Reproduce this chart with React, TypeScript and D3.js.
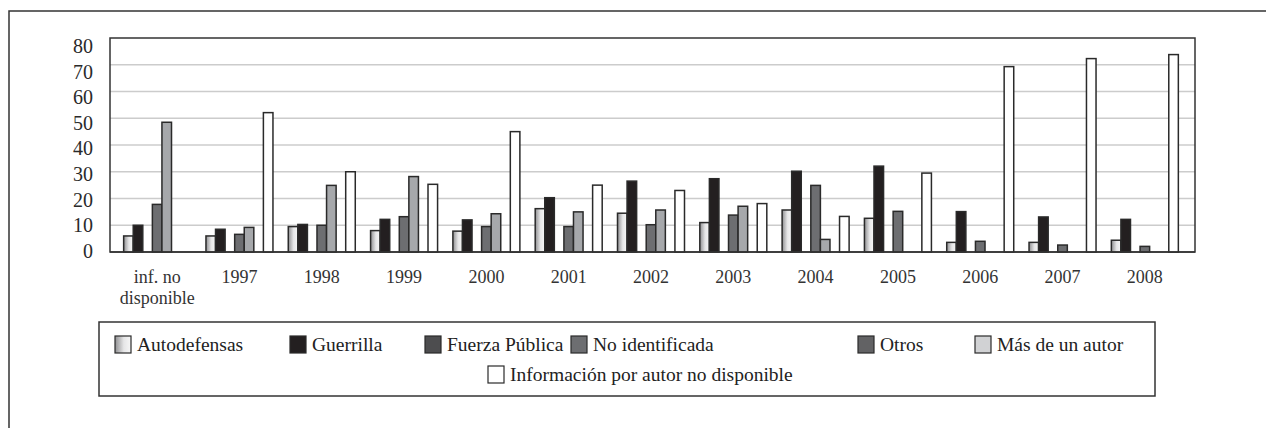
import React, { useEffect, useRef } from "react";
import * as d3 from "d3";

const width = 1266;
const height = 428;
const plot = { left: 110, right: 1195, top: 38, bottom: 252 };

const categories = [
  "inf. no disponible", "1997", "1998", "1999", "2000", "2001", "2002",
  "2003", "2004", "2005", "2006", "2007", "2008"
];
const seriesNames = [
  "Autodefensas", "Guerrilla", "Fuerza Pública", "No identificada",
  "Otros", "Más de un autor", "Información por autor no disponible"
];

const autodefensas = [6, 6, 9.5, 8, 7.8, 16.2, 14.5, 11, 15.7, 12.6, 3.6, 3.6, 4.4];
const guerrilla = [10, 8.5, 10.3, 12.2, 12, 20.3, 26.5, 27.4, 30.2, 32.1, 15.1, 13.1, 12.2];
const fuerzaPublica = [0, 0, 0, 0, 0, 0, 0, 0, 0, 0, 0, 0, 0];
const noIdentificada = [17.8, 6.6, 10, 13.2, 9.5, 9.5, 10.2, 13.8, 24.9, 15.2, 4, 2.6, 2.1];
const otros = [48.5, 9.2, 24.9, 28.2, 14.3, 15, 15.7, 17.1, 4.7, 0, 0, 0, 0];
const masDeUnAutor = [0, 0, 0, 0, 0, 0, 0, 0, 0, 0, 0, 0, 0];
const infoNoDisponible = [0, 52.1, 30, 25.3, 45, 25, 23, 18.1, 13.3, 29.5, 69.3, 72.3, 73.8];

const seriesValues = [
  autodefensas, guerrilla, fuerzaPublica, noIdentificada, otros, masDeUnAutor, infoNoDisponible
];
const barColors = ["url(#autoGrad)", "#231f20", "#4d4d4f", "#6d6e71", "#a6a8ab", "#d1d2d4", "#ffffff"];
const legendColors = ["url(#autoGrad)", "#231f20", "#4d4d4f", "#6d6e71", "#626264", "#d1d2d4", "#ffffff"];
const yTicks = [0, 10, 20, 30, 40, 50, 60, 70, 80];

// legend placement (row, swatch x)
const legendPos = [
  { row: 0, x: 115 }, { row: 0, x: 290 }, { row: 0, x: 425 }, { row: 0, x: 571 },
  { row: 0, x: 858 }, { row: 0, x: 975 }, { row: 1, x: 488 }
];

const font = "Liberation Serif, DejaVu Serif, serif";

export default function App() {
  const yAxisRef = useRef<SVGGElement>(null);

  const x0 = d3.scaleBand<string>().domain(categories).range([116, 1186]).padding(0);
  const x1 = d3
    .scaleBand<number>()
    .domain(d3.range(seriesNames.length))
    .range([(x0.bandwidth() - 67) / 2, (x0.bandwidth() + 67) / 2]);
  const y = d3.scaleLinear().domain([0, 80]).range([plot.bottom, plot.top]);
  // tick labels sit slightly off the grid in the source
  const yLabel = d3.scaleLinear().domain([0, 80]).range([251, 46]);

  useEffect(() => {
    const axis = d3.axisLeft(yLabel).tickValues(yTicks).tickSize(0).tickPadding(0);
    const g = d3.select(yAxisRef.current!);
    g.call(axis);
    g.attr("font-family", null).attr("font-size", null);
    g.select(".domain").remove();
    g.selectAll("text").attr("fill", "#2a2a2a");
  }, []);

  return (
    <svg
      width={width}
      height={height}
      style={{ position: "absolute", left: 0, top: 0, fontFamily: font }}
    >
      <defs>
        <linearGradient id="autoGrad" x1="0" x2="1" y1="0" y2="0">
          <stop offset="0%" stopColor="#8f8f91" />
          <stop offset="55%" stopColor="#e6e6e7" />
          <stop offset="100%" stopColor="#f7f7f7" />
        </linearGradient>
      </defs>
      <rect width={width} height={height} fill="#fff" />
      {/* outer frame */}
      <path d={`M9,${height} V11 H${width}`} fill="none" stroke="#333" strokeWidth={1.5} />

      {/* gridlines */}
      {yTicks.filter(t => t > 0 && t < 80).map(t => (
        <line key={t} x1={plot.left} x2={plot.right} y1={y(t)} y2={y(t)} stroke="#cccccc" strokeWidth={1.5} />
      ))}
      <path
        d={`M${plot.left},${plot.bottom} V${plot.top} H${plot.right} V${plot.bottom} Z`}
        fill="none" stroke="#333" strokeWidth={1.5}
      />

      {/* bars */}
      {categories.map((c, ci) => (
        <g key={c} transform={`translate(${x0(c)},0)`}>
          {seriesValues.map((vals, si) =>
            vals[ci] > 0 ? (
              <rect
                key={si}
                x={x1(si)}
                y={y(vals[ci])}
                width={x1.bandwidth()}
                height={y(0) - y(vals[ci])}
                fill={barColors[si]}
                stroke="#2a2a2a"
                strokeWidth={1.5}
              />
            ) : null
          )}
        </g>
      ))}
      <line x1={plot.left} x2={plot.right} y1={plot.bottom} y2={plot.bottom} stroke="#333" strokeWidth={1.5} />

      {/* y axis */}
      <g ref={yAxisRef} transform="translate(93,0)" style={{ fontFamily: font, fontSize: 20 }} />

      {/* x labels */}
      {categories.map(c => {
        const cx = x0(c)! + x0.bandwidth() / 2;
        const lines = c === "inf. no disponible" ? ["inf. no", "disponible"] : [c];
        return (
          <text key={c} x={cx} y={283} textAnchor="middle" fontSize={18} fill="#333">
            {lines.map((l, i) => (
              <tspan key={i} x={cx} dy={i === 0 ? 0 : 21}>{l}</tspan>
            ))}
          </text>
        );
      })}

      {/* legend */}
      <rect x={99} y={322} width={1056} height={74} fill="none" stroke="#333" strokeWidth={1.5} />
      {seriesNames.map((name, i) => {
        const p = legendPos[i];
        const sy = p.row === 0 ? 336 : 366;
        return (
          <g key={name}>
            <rect x={p.x} y={sy} width={16} height={17} fill={legendColors[i]} stroke="#2a2a2a" strokeWidth={1.2} />
            <text x={p.x + 22} y={sy + 15} fontSize={19.5} fill="#222">{name}</text>
          </g>
        );
      })}
    </svg>
  );
}
